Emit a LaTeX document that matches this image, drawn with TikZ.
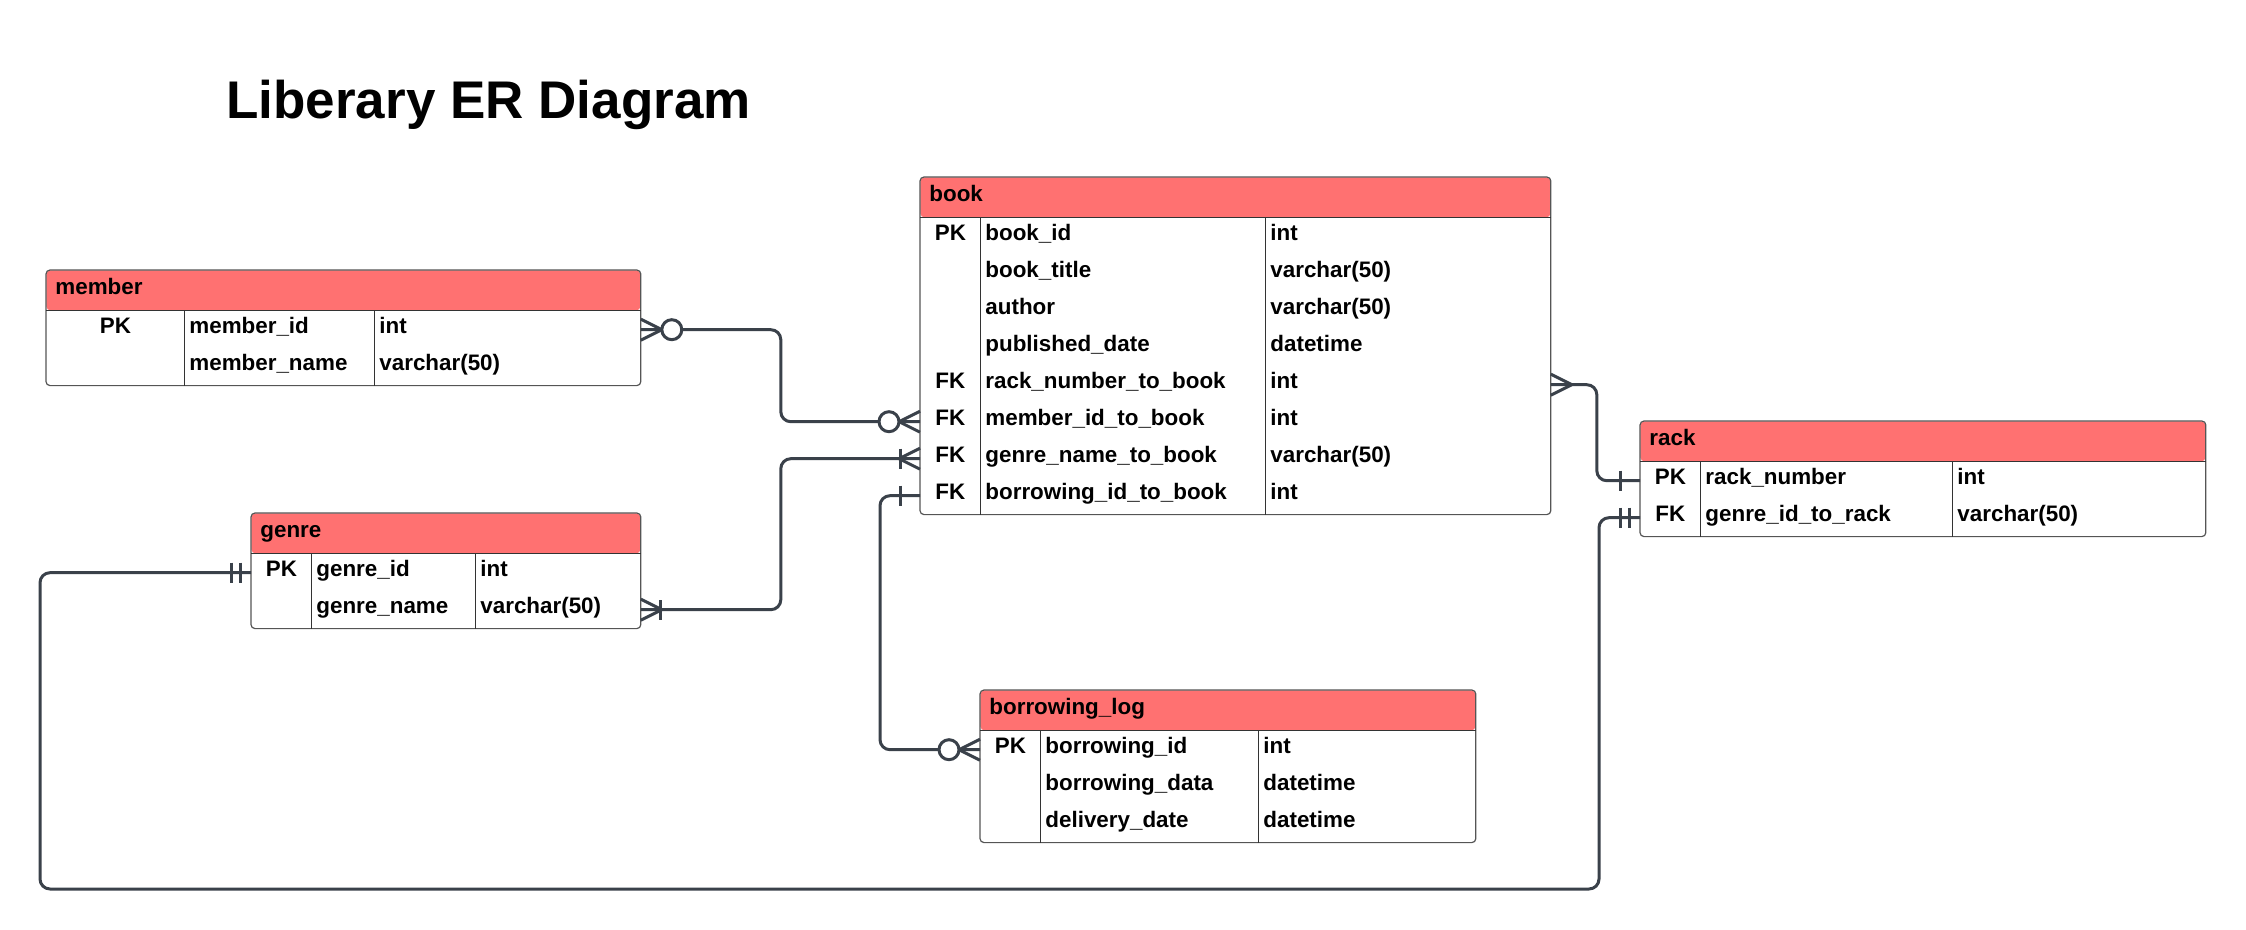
\documentclass[tikz,border=0pt]{standalone}
\usepackage{fontspec}
\setmainfont{Liberation Sans}
\usetikzlibrary{positioning,matrix}
\definecolor{hdrRed}{HTML}{FF7171}
\definecolor{relGray}{HTML}{3A414A}
\definecolor{boxGray}{HTML}{555555}

\begin{document}
\begin{tikzpicture}[x=0.5pt, y=-0.5pt]
\tikzstyle{hdr}=[fill=hdrRed, rounded corners=2pt, anchor=north west, align=left, inner xsep=4.5pt, inner ysep=0pt, minimum height=20pt, text height=7.5pt, text depth=3pt, font=\bfseries\fontsize{11.2}{13}\selectfont]
\tikzstyle{tbl}=[matrix of nodes, nodes in empty cells, inner sep=0pt, row sep=0pt, column sep=0pt, nodes={align=left, inner xsep=2.5pt, inner ysep=0pt, minimum height=18.5pt, text height=7pt, text depth=3.5pt, font=\bfseries\fontsize{11.2}{13}\selectfont}]
\tikzstyle{frame}=[draw=boxGray, line width=0.6pt, rounded corners=2pt]
\tikzstyle{sep}=[draw=black!80, line width=0.5pt]
\tikzstyle{rel}=[draw=relGray, line width=1.5pt, rounded corners=5pt]
\tikzset{
  crow/.pic={\draw[rel] (-21,0) -- (0,-10.5) (-21,0) -- (0,10.5);},
  ring/.pic={\draw[rel, fill=white] (-31,0) circle[radius=5pt];},
  bar/.pic={\draw[rel] (-20,-10) -- (-20,10);},
  bartwo/.pic={\draw[rel] (-20,-10) -- (-20,10) (-11,-10) -- (-11,10);}
}
\useasboundingbox (0,0) rectangle (2246,930);

\node[anchor=base west, inner sep=0pt, font=\bfseries\fontsize{26.5}{30}\selectfont] (title) at (226,119) {Liberary ER Diagram};

% member
\node[hdr, text width=288pt] (member) at (46,270) {member};
\matrix[tbl, below=0pt of member, column 1/.style={nodes={text width=64pt, align=center}}, column 2/.style={nodes={text width=90pt}}, column 3/.style={nodes={text width=128pt}}] (mem) {
PK & member\_id & int \\
 & member\_name & varchar(50) \\
};
\draw[frame] (member.north west) rectangle (mem.south east);
\draw[sep] (member.south west) -- (member.south east) (mem-1-2.north west) -- (mem-2-2.south west) (mem-1-3.north west) -- (mem-2-3.south west);

% book
\node[hdr, text width=306pt] (book) at (920,177) {book};
\matrix[tbl, below=0pt of book, column 1/.style={nodes={text width=25pt, align=center}}, column 2/.style={nodes={text width=137.5pt}}, column 3/.style={nodes={text width=137.5pt}}] (bk) {
PK & book\_id & int \\
 & book\_title & varchar(50) \\
 & author & varchar(50) \\
 & published\_date & datetime \\
FK & rack\_number\_to\_book & int \\
FK & member\_id\_to\_book & int \\
FK & genre\_name\_to\_book & varchar(50) \\
FK & borrowing\_id\_to\_book & int \\
};
\draw[frame] (book.north west) rectangle (bk.south east);
\draw[sep] (book.south west) -- (book.south east) (bk-1-2.north west) -- (bk-8-2.south west) (bk-1-3.north west) -- (bk-8-3.south west);

% rack
\node[hdr, text width=273.5pt] (rack) at (1640,421) {rack};
\matrix[tbl, below=0pt of rack, column 1/.style={nodes={text width=25pt, align=center}}, column 2/.style={nodes={text width=121pt}}, column 3/.style={nodes={text width=121.5pt}}] (rk) {
PK & rack\_number & int \\
FK & genre\_id\_to\_rack & varchar(50) \\
};
\draw[frame] (rack.north west) rectangle (rk.south east);
\draw[sep] (rack.south west) -- (rack.south east) (rk-1-2.north west) -- (rk-2-2.south west) (rk-1-3.north west) -- (rk-2-3.south west);

% genre
\node[hdr, text width=185.5pt] (genre) at (251,513) {genre};
\matrix[tbl, below=0pt of genre, column 1/.style={nodes={text width=25pt, align=center}}, column 2/.style={nodes={text width=77pt}}, column 3/.style={nodes={text width=77.5pt}}] (gn) {
PK & genre\_id & int \\
 & genre\_name & varchar(50) \\
};
\draw[frame] (genre.north west) rectangle (gn.south east);
\draw[sep] (genre.south west) -- (genre.south east) (gn-1-2.north west) -- (gn-2-2.south west) (gn-1-3.north west) -- (gn-2-3.south west);

% borrowing_log
\node[hdr, text width=238.5pt] (blog) at (980,690) {borrowing\_log};
\matrix[tbl, below=0pt of blog, column 1/.style={nodes={text width=25pt, align=center}}, column 2/.style={nodes={text width=104pt}}, column 3/.style={nodes={text width=103.5pt}}] (bl) {
PK & borrowing\_id & int \\
 & borrowing\_data & datetime \\
 & delivery\_date & datetime \\
};
\draw[frame] (blog.north west) rectangle (bl.south east);
\draw[sep] (blog.south west) -- (blog.south east) (bl-1-2.north west) -- (bl-3-2.south west) (bl-1-3.north west) -- (bl-3-3.south west);

% relations
\draw[rel] (mem-1-3.east) -- ++(70pt,0) |- (bk-6-1.west);
\draw[rel] (gn-2-3.east) -- ++(70pt,0) |- (bk-7-1.west);
\draw[rel] (bk-8-1.west) -- ++(-20pt,0) |- (bl-1-1.west);
\draw[rel] (bk-5-3.east) -- ++(23pt,0) |- (rk-1-1.west);
\draw[rel] (gn-1-1.west) -| (40,889) -| ([xshift=-20.5pt]rk-2-1.west) -- (rk-2-1.west);

\pic[rotate=180] at (mem-1-3.east) {crow};
\pic[rotate=180] at (mem-1-3.east) {ring};
\pic at (bk-6-1.west) {crow};
\pic at (bk-6-1.west) {ring};
\pic[rotate=180] at (gn-2-3.east) {crow};
\pic[rotate=180] at (gn-2-3.east) {bar};
\pic at (bk-7-1.west) {crow};
\pic at (bk-7-1.west) {bar};
\pic at (bk-8-1.west) {bar};
\pic at (bl-1-1.west) {crow};
\pic at (bl-1-1.west) {ring};
\pic[rotate=180] at (bk-5-3.east) {crow};
\pic at (rk-1-1.west) {bar};
\pic at (gn-1-1.west) {bartwo};
\pic at (rk-2-1.west) {bartwo};
\end{tikzpicture}
\end{document}
